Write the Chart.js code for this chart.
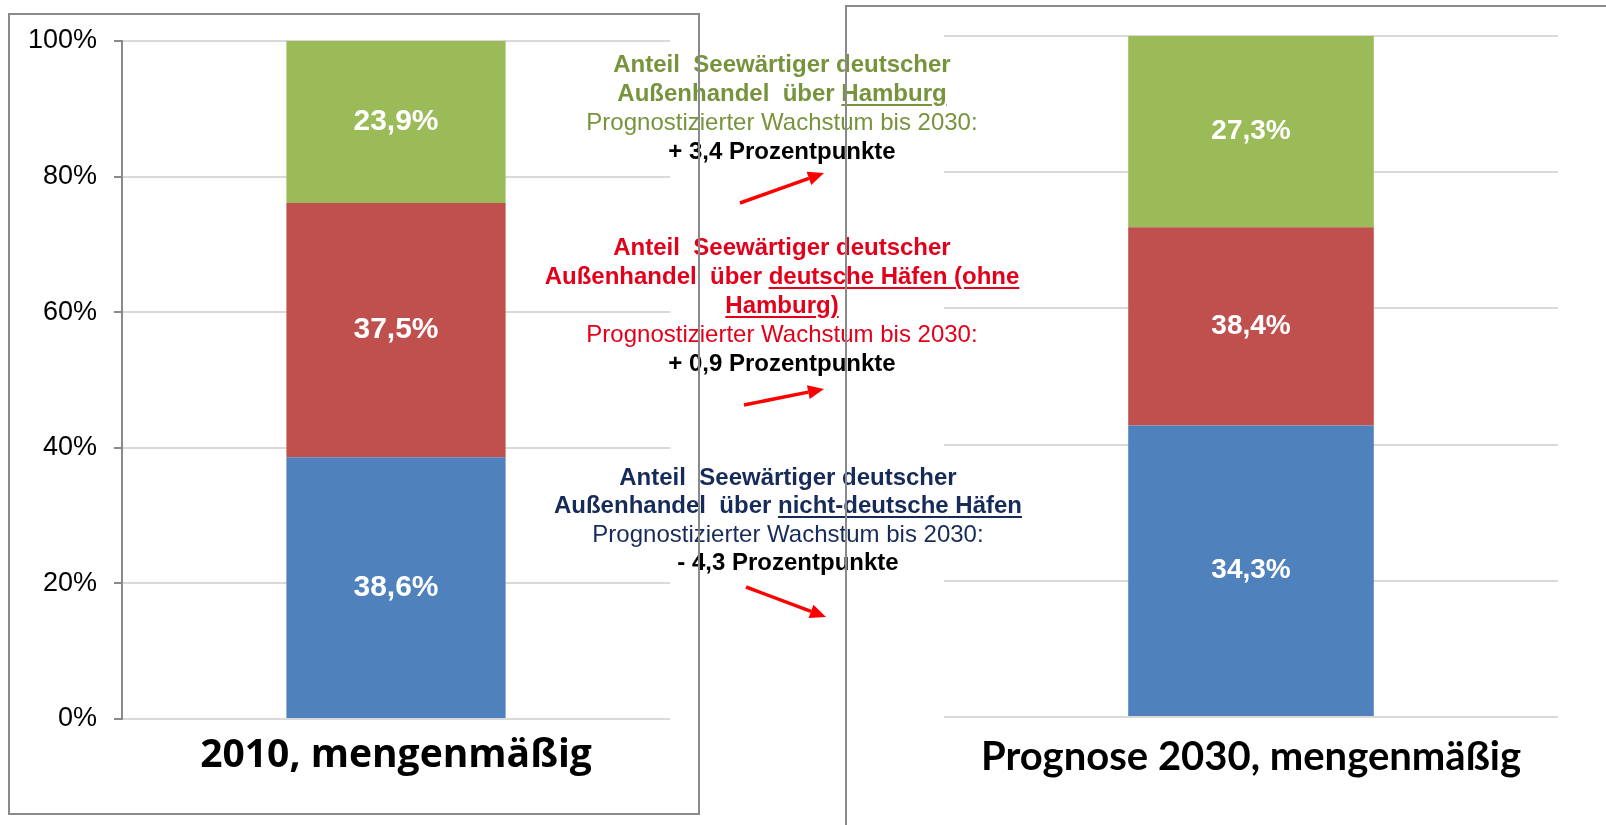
<!DOCTYPE html>
<html lang="de">
<head>
<meta charset="UTF-8">
<title>Seewärtiger deutscher Außenhandel 2010 / 2030</title>
<style>
  body { margin: 0; width: 1606px; height: 825px; background: #fff; position: relative; overflow: hidden; }
  canvas { position: absolute; top: 0; }
  #left { left: 0; }
  #right { left: 847px; }
  .frame { position: absolute; border: 2px solid #8a8a8a; box-sizing: border-box; pointer-events: none; z-index: 5; }
  .note { position: absolute; width: 500px; font-family: 'Liberation Sans', Arial, sans-serif; font-size: 24px; line-height: 29px; text-align: center; white-space: nowrap; z-index: 3; }
  .note u { text-decoration-thickness: 2px; text-underline-offset: 3px; }
  .note .pp { color: #000; font-weight: bold; }
  #arrows { position: absolute; left: 0; top: 0; z-index: 4; }
</style>
<script src="https://cdn.jsdelivr.net/npm/chart.js"></script>
</head>
<body>
<canvas id="left" width="700" height="825"></canvas>
<canvas id="right" width="759" height="825"></canvas>

<div class="note" style="left:532px; top:49px; color:#77933C">
<b>Anteil&nbsp; Seewärtiger deutscher</b><br>
<b>Außenhandel&nbsp; über <u>Hamburg</u></b><br>
Prognostizierter Wachstum bis 2030:<br>
<span class="pp">+ 3,4 Prozentpunkte</span>
</div>

<div class="note" style="left:532px; top:232px; color:#E2001A">
<b>Anteil&nbsp; Seewärtiger deutscher</b><br>
<b>Außenhandel&nbsp; über <u>deutsche Häfen (ohne</u></b><br>
<b><u>Hamburg)</u></b><br>
Prognostizierter Wachstum bis 2030:<br>
<span class="pp">+ 0,9 Prozentpunkte</span>
</div>

<div class="note" style="left:538px; top:463px; line-height:28.4px; color:#172B5A">
<b>Anteil&nbsp; Seewärtiger deutscher</b><br>
<b>Außenhandel&nbsp; über <u>nicht-deutsche Häfen</u></b><br>
Prognostizierter Wachstum bis 2030:<br>
<span class="pp">- 4,3 Prozentpunkte</span>
</div>

<svg id="arrows" width="1606" height="825"></svg>

<div class="frame" style="left:8px; top:13px; width:692px; height:802px"></div>
<div class="frame" style="left:845px; top:5px; width:800px; height:900px"></div>

<script>
const categories2010 = ['2010, mengenmäßig'];
const categories2030 = ['Prognose 2030, mengenmäßig'];
const seriesNames = ['über nicht-deutsche Häfen', 'über deutsche Häfen (ohne Hamburg)', 'über Hamburg'];
const seriesColors = ['#4F81BD', '#C0504D', '#9BBB59'];

// shares in %, bottom to top
const values2010 = [38.6, 37.5, 23.9];
const labels2010 = ['38,6%', '37,5%', '23,9%'];
// 2030 bars as drawn in the source; its printed labels don't match the heights
const values2030 = [42.8, 29.1, 28.1];
const labels2030 = ['34,3%', '38,4%', '27,3%'];

const yTicks = [0, 20, 40, 60, 80, 100];

// white value text in the middle of each segment
const barLabels = {
  id: 'barLabels',
  afterDatasetsDraw(chart, args, opts) {
    const ctx = chart.ctx;
    ctx.save();
    ctx.fillStyle = '#fff';
    ctx.font = 'bold ' + opts.size + 'px "Liberation Sans", Arial, sans-serif';
    ctx.textAlign = 'center';
    ctx.textBaseline = 'middle';
    chart.data.datasets.forEach((ds, i) => {
      chart.getDatasetMeta(i).data.forEach(bar => {
        ctx.fillText(opts.texts[i], bar.x, (bar.y + bar.base) / 2);
      });
    });
    ctx.restore();
  }
};

function makeDatasets(values) {
  return values.map((v, i) => ({
    label: seriesNames[i],
    data: [v],
    backgroundColor: seriesColors[i],
    borderWidth: 0,
    barPercentage: 0.4,
    categoryPercentage: 1
  }));
}

// left panel: 2010 with y axis
new Chart(document.getElementById('left'), {
  type: 'bar',
  data: { labels: categories2010, datasets: makeDatasets(values2010) },
  plugins: [barLabels],
  options: {
    responsive: false,
    animation: false,
    layout: { padding: { left: 0, right: 30, top: 41, bottom: 0 } },
    plugins: {
      legend: { display: false },
      tooltip: { enabled: false },
      barLabels: { texts: labels2010, size: 30 }
    },
    scales: {
      x: {
        stacked: true,
        grid: { display: false, drawTicks: false },
        border: { display: false },
        ticks: { color: '#000', padding: 13, font: { family: 'Open Sans', weight: 'bold', size: 39 } },
        afterFit: s => { s.height = 106; }
      },
      y: {
        stacked: true,
        min: yTicks[0],
        max: yTicks[yTicks.length - 1],
        ticks: {
          stepSize: yTicks[1] - yTicks[0],
          callback: v => v + '%',
          color: '#000',
          padding: 17,
          font: { family: 'Liberation Sans', size: 27 }
        },
        grid: { color: '#d9d9d9', lineWidth: 2, tickLength: 8, tickColor: '#8a8a8a', tickWidth: 2 },
        border: { display: true, color: '#8a8a8a', width: 2 },
        afterFit: s => { s.width = 122; }
      }
    }
  }
});

// right panel: forecast 2030, gridlines only
new Chart(document.getElementById('right'), {
  type: 'bar',
  data: { labels: categories2030, datasets: makeDatasets(values2030) },
  plugins: [barLabels],
  options: {
    responsive: false,
    animation: false,
    layout: { padding: { left: 0, right: 48, top: 36, bottom: 0 } },
    plugins: {
      legend: { display: false },
      tooltip: { enabled: false },
      barLabels: { texts: labels2030, size: 28 }
    },
    scales: {
      x: {
        stacked: true,
        grid: { display: false, drawTicks: false },
        border: { display: false },
        ticks: { color: '#000', padding: 16, font: { family: 'Lato', weight: 'bold', size: 40 } },
        afterFit: s => { s.height = 108; }
      },
      y: {
        stacked: true,
        min: yTicks[0],
        max: yTicks[yTicks.length - 1],
        ticks: { display: false, stepSize: yTicks[1] - yTicks[0] },
        grid: { color: '#d9d9d9', lineWidth: 2, drawTicks: false },
        border: { display: false },
        afterFit: s => { s.width = 97; }
      }
    }
  }
});

// red arrows between the panels
const arrows = [[740, 203, 824, 173], [744, 405, 824, 389], [746, 587, 826, 617]];
const svg = document.getElementById('arrows');
arrows.forEach(([x1, y1, x2, y2]) => {
  const dx = x2 - x1, dy = y2 - y1, len = Math.hypot(dx, dy);
  const ux = dx / len, uy = dy / len, head = 16, half = 7;
  const bx = x2 - ux * head, by = y2 - uy * head;
  svg.insertAdjacentHTML('beforeend',
    `<line x1="${x1}" y1="${y1}" x2="${bx}" y2="${by}" stroke="#FF0000" stroke-width="3.5"/>` +
    `<polygon fill="#FF0000" points="${x2},${y2} ${bx - uy * half},${by + ux * half} ${bx + uy * half},${by - ux * half}"/>`);
});
</script>
</body>
</html>
